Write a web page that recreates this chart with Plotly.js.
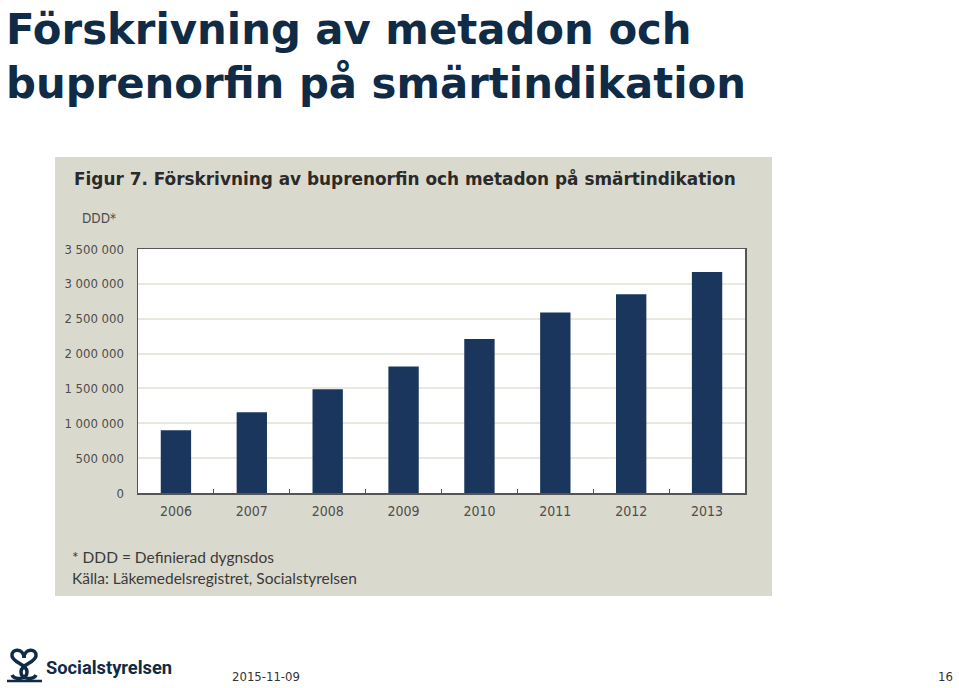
<!DOCTYPE html>
<html>
<head>
<meta charset="utf-8">
<script src="https://cdn.plot.ly/plotly-3.0.1.min.js"></script>
<style>
html,body{margin:0;padding:0;background:#fff;}
#chart{width:959px;height:688px;}
</style>
</head>
<body>
<div id="chart"></div>
<script>
// ---- data ----
const years = ["2006","2007","2008","2009","2010","2011","2012","2013"];
const ddd = [900000, 1160000, 1490000, 1815000, 2210000, 2590000, 2850000, 3170000];
const yTickVals = [0, 500000, 1000000, 1500000, 2000000, 2500000, 3000000, 3500000];
const yTickText = ["0","500 000","1 000 000","1 500 000","2 000 000","2 500 000","3 000 000","3 500 000"];

const slideTitle = "Förskrivning av metadon och<br>buprenorfin på smärtindikation";
const figTitle = "Figur 7. Förskrivning av buprenorfin och metadon på smärtindikation";
const unitLabel = "DDD*";
const note1 = "* DDD = Definierad dygnsdos";
const note2 = "Källa: Läkemedelsregistret, Socialstyrelsen";
const logoText = "Socialstyrelsen";
const dateText = "2015-11-09";
const pageText = "16";

// ---- layout geometry (pixels) ----
const W = 959, H = 688;
const L = 138, R = 745, T = 249, B = 493;
const pw = R - L, ph = B - T;
const px = x => (x - L) / pw;
const py = y => (B - y) / ph;
// convert a pixel-space SVG path into paper space
const pathPx = s => s.replace(/(-?\d+(?:\.\d+)?)\s+(-?\d+(?:\.\d+)?)/g,
  (m, a, b) => px(+a).toFixed(5) + " " + py(+b).toFixed(5));

const panel = "#dad9ce";
const navy = "#1a365d";
const dark = "#0f2b46";
const grey = "#4d4d4d";
const gfont = "Lato, 'DejaVu Sans', sans-serif";
const nfont = "'DejaVu Sans Condensed', Roboto, sans-serif";

const trace = {
  type: "bar",
  x: years,
  y: ddd,
  marker: {color: navy, line: {width: 0}},
  width: 0.4,
  hoverinfo: "skip"
};

const ann = (x, y, text, size, color, opts) => Object.assign({
  xref: "paper", yref: "paper", x: px(x), y: py(y), text: text, showarrow: false,
  font: {family: gfont, size: size, color: color},
  xanchor: "left", yanchor: "middle"
}, opts || {});

const logoStroke = {color: dark, width: 3.5};

const layout = {
  width: W, height: H,
  margin: {l: L, r: W - R, t: T, b: H - B, pad: 0},
  paper_bgcolor: "#ffffff",
  plot_bgcolor: "#ffffff",
  showlegend: false,
  bargap: 0.6,
  xaxis: {
    type: "category",
    showline: true, linecolor: "#555", linewidth: 1.5, mirror: true,
    ticks: "inside", tickson: "boundaries", ticklen: 4, tickcolor: "#555", tickwidth: 1,
    showgrid: false,
    tickfont: {family: nfont, size: 14, color: grey},
    ticklabelstandoff: 5
  },
  yaxis: {
    range: [0, 3500000],
    tickvals: yTickVals, ticktext: yTickText,
    showline: true, linecolor: "#555", linewidth: 1.5, mirror: true,
    showgrid: true, gridcolor: "#e9e7e0", gridwidth: 2,
    zeroline: false,
    ticks: "",
    tickfont: {family: nfont, size: 13, color: grey},
    ticklabelstandoff: 10
  },
  shapes: [
    {type: "rect", xref: "paper", yref: "paper", x0: px(55), x1: px(772), y0: py(596), y1: py(157),
     fillcolor: panel, line: {width: 0}, layer: "below"},
    {type: "rect", xref: "paper", yref: "paper", x0: 0, x1: 1, y0: 0, y1: 1,
     fillcolor: "#ffffff", line: {width: 0}, layer: "below"},
    // logo: two interlocked S forms and a base line
    {type: "path", xref: "paper", yref: "paper", layer: "above", line: logoStroke,
     path: pathPx("M 24 658 C 24 648 11 648 12 656 C 13 663 27 664 27 672 C 27 680 14 680 12 675")},
    {type: "path", xref: "paper", yref: "paper", layer: "above", line: logoStroke,
     path: pathPx("M 24 658 C 24 648 37 648 36 656 C 35 663 21 664 21 672 C 21 680 34 680 36 675")},
    {type: "path", xref: "paper", yref: "paper", layer: "above", line: {color: dark, width: 2.5},
     path: pathPx("M 7 681 L 42 681")}
  ],
  annotations: [
    ann(4, 56, slideTitle, 42, dark, {align: "left",
      font: {family: "'DejaVu Sans', sans-serif", size: 41.8, color: dark, weight: 700}}),
    ann(72, 178, figTitle, 16.9, "#2a2a2a", {font: {family: "'DejaVu Sans', sans-serif", size: 16.9, color: "#2a2a2a", weight: 700}}),
    ann(80, 218, unitLabel, 13, grey, {font: {family: nfont, size: 13.5, color: grey}}),
    ann(70, 557, note1, 15.5, "#3a3a3a"),
    ann(70, 578, note2, 15.5, "#3a3a3a"),
    ann(44, 667, logoText, 18, dark, {font: {family: "Roboto, sans-serif", size: 18.3, color: dark, weight: 700}}),
    ann(230, 676, dateText, 12, "#333", {font: {family: nfont, size: 13, color: "#333"}}),
    ann(955, 676, pageText, 12, "#333", {xanchor: "right", font: {family: nfont, size: 13, color: "#333"}})
  ]
};

Plotly.newPlot("chart", [trace], layout, {staticPlot: true, displayModeBar: false});
</script>
</body>
</html>
